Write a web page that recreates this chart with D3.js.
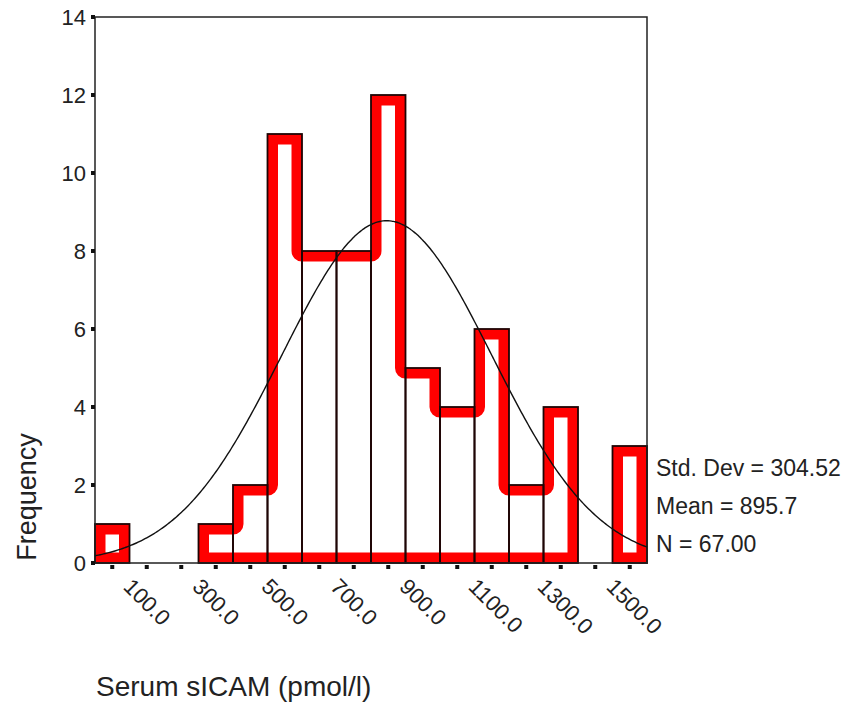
<!DOCTYPE html>
<html>
<head>
<meta charset="utf-8">
<script src="https://cdn.jsdelivr.net/npm/d3@7/dist/d3.min.js"></script>
<style>
  body { margin: 0; background: #fff; }
  svg text { font-family: "Liberation Sans", Arial, sans-serif; fill: #222; }
</style>
</head>
<body>
<svg id="chart" width="848" height="708"></svg>
<script>
// histogram bins (centre of each 100-wide bin) and their counts
const binCenters = [100, 200, 300, 400, 500, 600, 700, 800, 900, 1000, 1100, 1200, 1300, 1400, 1500, 1600];
const counts = [1, 0, 0, 1, 2, 11, 8, 8, 12, 5, 4, 6, 2, 4, 0, 3];
const xTickLabels = ['100.0', '300.0', '500.0', '700.0', '900.0', '1100.0', '1300.0', '1500.0'];
const xTickValues = [100, 300, 500, 700, 900, 1100, 1300, 1500];
const yTicks = [0, 2, 4, 6, 8, 10, 12, 14];
const statLabels = ['Std. Dev = 304.52', 'Mean = 895.7', 'N = 67.00'];
const stdDev = 304.52;
const mean = 895.7;
const n = 67;
const binWidth = 100;

const plot = { left: 95, right: 647, top: 17, bottom: 563 };

const svg = d3.select('#chart');

const x = d3.scaleLinear().domain([50, 1650]).range([plot.left, plot.right]);
const y = d3.scaleLinear().domain([0, 14]).range([plot.bottom, plot.top]);

const bars = binCenters.map((c, i) => ({ x0: c - binWidth / 2, x1: c + binWidth / 2, v: counts[i] }));

// group consecutive non-empty bins so the red band follows the outline of the union
const groups = [];
let cur = null;
bars.forEach(b => {
  if (b.v > 0) {
    if (!cur) { cur = []; groups.push(cur); }
    cur.push(b);
  } else {
    cur = null;
  }
});

const outline = g => {
  const p = d3.path();
  p.moveTo(x(g[0].x0), y(0));
  g.forEach(b => {
    p.lineTo(x(b.x0), y(b.v));
    p.lineTo(x(b.x1), y(b.v));
  });
  p.lineTo(x(g[g.length - 1].x1), y(0));
  p.closePath();
  return p.toString();
};

const defs = svg.append('defs');
groups.forEach((g, i) => {
  defs.append('clipPath').attr('id', `clip${i}`)
    .append('path').attr('d', outline(g));
});

svg.append('g').selectAll('path')
  .data(groups)
  .enter()
  .append('path')
  .attr('d', outline)
  .attr('clip-path', (d, i) => `url(#clip${i})`)
  .attr('fill', 'none')
  .attr('stroke', '#f00')
  .attr('stroke-width', 21)
  .attr('stroke-linejoin', 'round');

// thin dark edges of every bar
svg.append('g').selectAll('rect')
  .data(bars.filter(b => b.v > 0))
  .enter()
  .append('rect')
  .attr('x', d => x(d.x0))
  .attr('y', d => y(d.v))
  .attr('width', d => x(d.x1) - x(d.x0))
  .attr('height', d => y(0) - y(d.v))
  .attr('fill', 'none')
  .attr('stroke', '#1e0505')
  .attr('stroke-width', 1.8);

// frame
svg.append('rect')
  .attr('x', plot.left).attr('y', plot.top)
  .attr('width', plot.right - plot.left).attr('height', plot.bottom - plot.top)
  .attr('fill', 'none')
  .attr('stroke', '#222')
  .attr('stroke-width', 1.5);

// y ticks and labels
const yAxis = svg.append('g');
yAxis.selectAll('rect')
  .data(yTicks)
  .enter()
  .append('rect')
  .attr('x', plot.left - 4).attr('y', d => y(d) - 2)
  .attr('width', 4).attr('height', 4)
  .attr('fill', '#111');
yAxis.selectAll('text')
  .data(yTicks)
  .enter()
  .append('text')
  .attr('x', plot.left - 9)
  .attr('y', d => y(d))
  .attr('dy', '0.36em')
  .attr('text-anchor', 'end')
  .style('font-size', '22px')
  .text(d => d);

// x ticks at every bin centre, labels on every other one
svg.append('g').selectAll('rect')
  .data(binCenters)
  .enter()
  .append('rect')
  .attr('x', d => x(d) - 2).attr('y', plot.bottom + 2)
  .attr('width', 4).attr('height', 4)
  .attr('fill', '#111');

svg.append('g').selectAll('text')
  .data(xTickValues)
  .enter()
  .append('text')
  .attr('transform', d => `translate(${x(d) + 10}, 588) rotate(45)`)
  .style('font-size', '22px')
  .text((d, i) => xTickLabels[i]);

// fitted normal curve from the reported mean and sd
const curveX = d3.range(50, 1651, 5);
const normal = v => n * binWidth / (stdDev * Math.sqrt(2 * Math.PI)) *
  Math.exp(-0.5 * Math.pow((v - mean) / stdDev, 2));
svg.append('path')
  .datum(curveX)
  .attr('d', d3.line().x(d => x(d)).y(d => y(normal(d))).curve(d3.curveBasis))
  .attr('fill', 'none')
  .attr('stroke', '#111')
  .attr('stroke-width', 1.4);

// stats text
svg.append('g').selectAll('text')
  .data(statLabels)
  .enter()
  .append('text')
  .attr('x', 656)
  .attr('y', (d, i) => 476 + i * 38)
  .style('font-size', '23px')
  .text(d => d);

svg.append('text')
  .attr('transform', 'translate(36, 497) rotate(-90)')
  .attr('text-anchor', 'middle')
  .style('font-size', '27px')
  .text('Frequency');

svg.append('text')
  .attr('x', 96)
  .attr('y', 696)
  .style('font-size', '28px')
  .text('Serum sICAM (pmol/l)');
</script>
</body>
</html>
